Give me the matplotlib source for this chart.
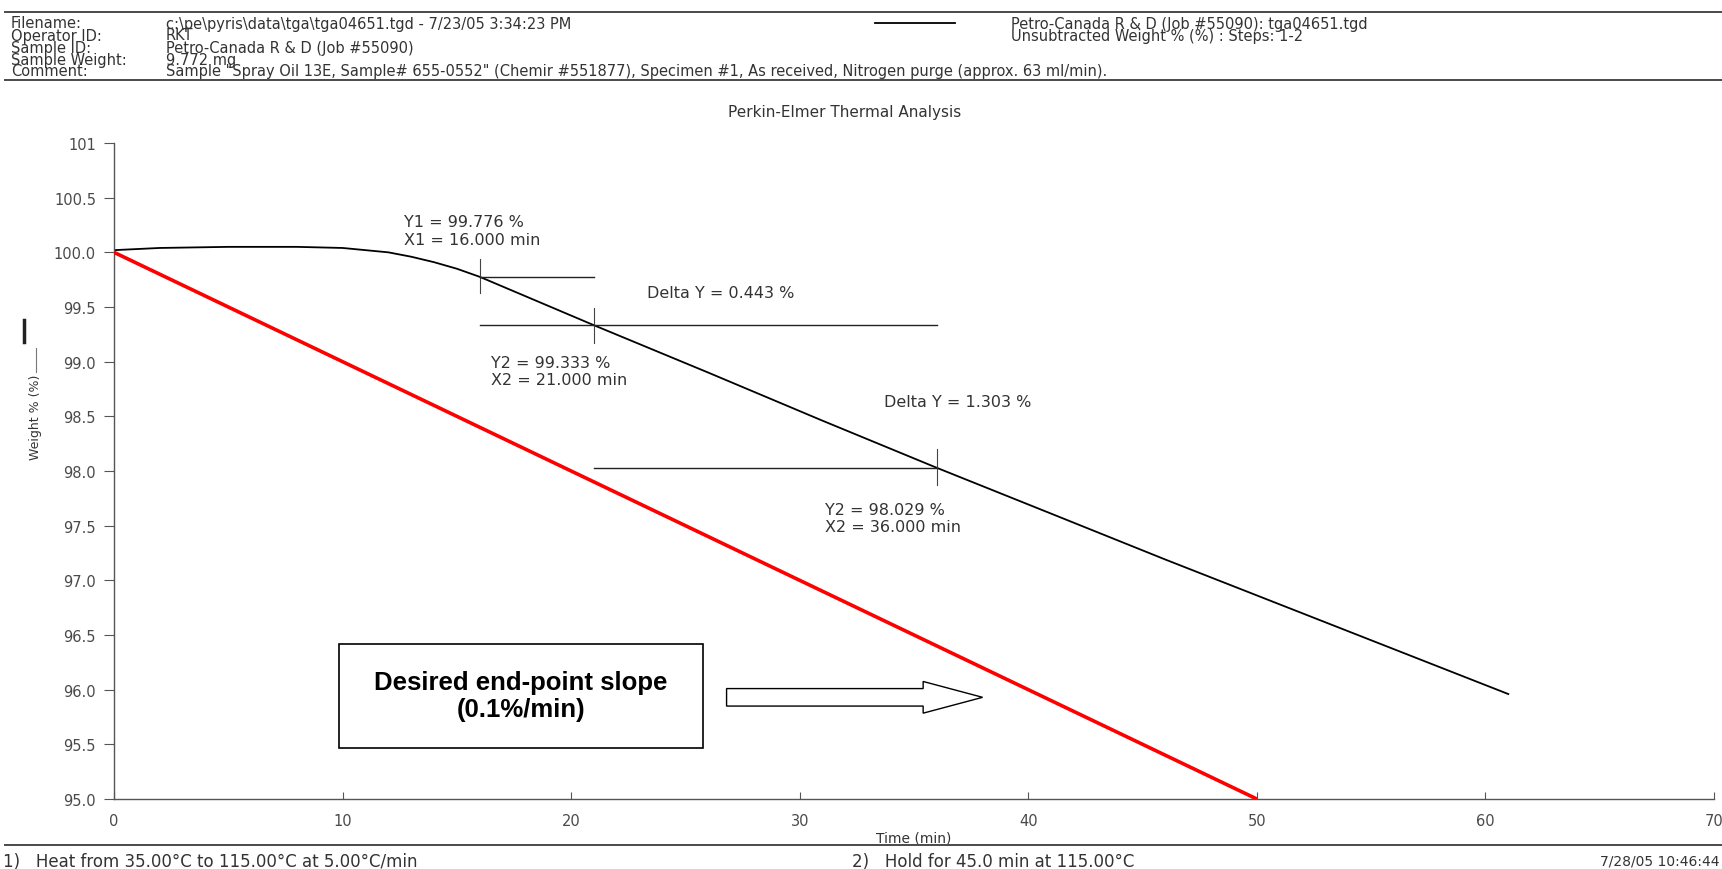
import matplotlib
matplotlib.use("Agg")
import matplotlib.pyplot as plt
from matplotlib.lines import Line2D
from matplotlib.patches import FancyArrow, Rectangle

# TGA weight-loss curve (time in min, weight in %)
time_min = [0, 2, 5, 8, 10, 12, 13, 14, 15, 16, 21, 26, 31, 36, 41, 46, 51, 56, 61]
weight_pct = [100.02, 100.04, 100.05, 100.05, 100.04, 100.0, 99.96, 99.91, 99.85,
              99.776, 99.333, 98.90, 98.46, 98.029, 97.61, 97.19, 96.78, 96.37, 95.96]

# Desired end-point slope reference line (0.1 %/min)
slope_x = [0, 50]
slope_y = [100.0, 95.0]

# Step analysis markers
x1, y1 = 16.0, 99.776
x2a, y2a = 21.0, 99.333
x2b, y2b = 36.0, 98.029
delta_y = [0.443, 1.303]

x_ticks = [0, 10, 20, 30, 40, 50, 60, 70]
y_ticks = [95.0, 95.5, 96.0, 96.5, 97.0, 97.5, 98.0, 98.5, 99.0, 99.5, 100.0, 100.5, 101.0]
y_tick_labels = ["95.0", "95.5", "96.0", "96.5", "97.0", "97.5", "98.0", "98.5",
                 "99.0", "99.5", "100.0", "100.5", "101"]

header_keys = ["Filename:", "Operator ID:", "Sample ID:", "Sample Weight:", "Comment:"]
header_vals = [
    "c:\\pe\\pyris\\data\\tga\\tga04651.tgd - 7/23/05 3:34:23 PM",
    "RKT",
    "Petro-Canada R & D (Job #55090)",
    "9.772 mg",
    'Sample "Spray Oil 13E, Sample# 655-0552" (Chemir #551877), Specimen #1, As received, Nitrogen purge (approx. 63 ml/min).',
]
legend_lines = ["Petro-Canada R & D (Job #55090): tga04651.tgd",
                "Unsubtracted Weight % (%) : Steps: 1-2"]
footer_left = "1)   Heat from 35.00\u00b0C to 115.00\u00b0C at 5.00\u00b0C/min"
footer_mid = "2)   Hold for 45.0 min at 115.00\u00b0C"
footer_right = "7/28/05 10:46:44 AM"

W, H = 1722, 870
TXT = "#333333"
GRAY = "#4a4a4a"
plt.rcParams["font.family"] = ["DejaVu Sans"]

fig = plt.figure(figsize=(W / 100, H / 100), dpi=100)
ax = fig.add_axes([114 / W, 1 - 800 / H, 1600 / W, 656 / H])


def fx(px):
    return px / W


def fy(py):
    return 1 - py / H


# header block
fig.add_artist(Line2D([fx(5), 1], [fy(13), fy(13)], color=GRAY, lw=1.4))
fig.add_artist(Line2D([fx(5), 1], [fy(81), fy(81)], color=GRAY, lw=1.4))
for i, (k, v) in enumerate(zip(header_keys, header_vals)):
    yy = fy(24 + 12 * i)
    fig.text(fx(11), yy, k, fontsize=10.5, color=TXT, va="center")
    fig.text(fx(166), yy, v, fontsize=10.5, color=TXT, va="center")
fig.add_artist(Line2D([fx(875), fx(955)], [fy(24), fy(24)], color="black", lw=1.3))
for i, s in enumerate(legend_lines):
    fig.text(fx(1011), fy(24 + 12 * i), s, fontsize=10.5, color=TXT, va="center")
fig.text(fx(845), fy(113), "Perkin-Elmer Thermal Analysis", fontsize=11,
         color=TXT, ha="center", va="center")

# footer block
fig.add_artist(Line2D([fx(5), 1], [fy(846), fy(846)], color=GRAY, lw=1.4))
fig.text(fx(3), fy(862), footer_left, fontsize=12, color=TXT, va="center")
fig.text(fx(852), fy(862), footer_mid, fontsize=12, color=TXT, va="center")
fig.text(fx(1600), fy(862), footer_right, fontsize=10, color=TXT, va="center")

# y label with its legend line symbol
fig.text(fx(36), fy(417), "Weight % (%)", rotation=90, fontsize=9, color=TXT,
         ha="center", va="center")
fig.add_artist(Line2D([fx(24), fx(24)], [fy(321), fy(343)], color="#222222", lw=2.5))
fig.add_artist(Line2D([fx(36), fx(36)], [fy(349), fy(373)], color="#777777", lw=0.8))

# curves
ax.plot(time_min, weight_pct, color="black", lw=1.3)
ax.plot(slope_x, slope_y, color="#ff0000", lw=2.6, solid_capstyle="butt", zorder=5)

# step analysis guides
ax.plot([x1, x1], [y1 + 0.16, y1 - 0.15], color="#444444", lw=0.8)
ax.plot([x2a, x2a], [y2a + 0.16, y2a - 0.16], color="#444444", lw=0.8)
ax.plot([x2b, x2b], [y2b + 0.17, y2b - 0.16], color="#444444", lw=0.8)
ax.plot([x1, x2a], [y1, y1], color="#222222", lw=1.0)
ax.plot([x1, x2b], [y2a, y2a], color="#222222", lw=1.0)
ax.plot([x2a, x2b], [y2b, y2b], color="#222222", lw=1.0)

ann = dict(fontsize=11.5, color=TXT, va="center")
ax.text(12.7, 100.28, f"Y1 = {y1:.3f} %", **ann)
ax.text(12.7, 100.12, f"X1 = {x1:.3f} min", **ann)
ax.text(23.3, 99.63, f"Delta Y = {delta_y[0]:.3f} %", **ann)
ax.text(16.5, 98.99, f"Y2 = {y2a:.3f} %", **ann)
ax.text(16.5, 98.84, f"X2 = {x2a:.3f} min", **ann)
ax.text(33.7, 98.64, f"Delta Y = {delta_y[1]:.3f} %", **ann)
ax.text(31.1, 97.65, f"Y2 = {y2b:.3f} %", **ann)
ax.text(31.1, 97.49, f"X2 = {x2b:.3f} min", **ann)

# callout box and hollow arrow
ax.add_patch(Rectangle((9.86, 95.47), 15.9, 0.95, facecolor="white",
                       edgecolor="black", lw=1.2, zorder=6))
ax.text(17.8, 95.945, "Desired end-point slope\n(0.1%/min)", ha="center", va="center",
        fontsize=18.5, fontweight="bold", family=["Liberation Sans"],
        linespacing=1.15, zorder=7)
ax.add_patch(FancyArrow(26.8, 95.93, 11.2, 0, width=0.16, head_width=0.29,
                        head_length=2.6, length_includes_head=True,
                        facecolor="white", edgecolor="black", lw=1.0, zorder=6))

# axes styling
ax.set_xlim(0, 70)
ax.set_ylim(95, 101)
for s in ["top", "right"]:
    ax.spines[s].set_visible(False)
for s in ["left", "bottom"]:
    ax.spines[s].set_color("#555555")
    ax.spines[s].set_linewidth(1.0)
ax.set_xticks(x_ticks)
ax.set_yticks(y_ticks)
ax.set_yticklabels(y_tick_labels)
ax.tick_params(axis="y", direction="out", length=7, width=0.8, colors="#555555",
               labelcolor=GRAY, labelsize=10.5, pad=6)
ax.tick_params(axis="x", direction="in", length=5, width=0.8, colors="#555555",
               labelcolor=GRAY, labelsize=10.5, pad=10)
ax.set_xlabel("Time (min)", fontsize=10, color=TXT, labelpad=2)

fig.savefig("out.png", dpi=100)
